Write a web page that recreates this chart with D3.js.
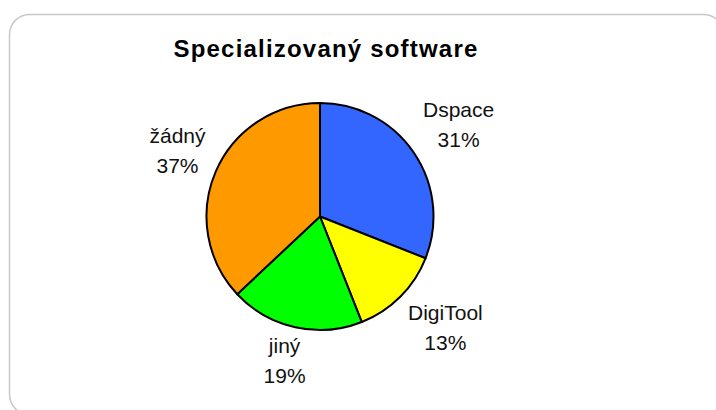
<!DOCTYPE html>
<html>
<head>
<meta charset="utf-8">
<script src="https://cdn.jsdelivr.net/npm/d3@7"></script>
<style>
  html, body { margin: 0; padding: 0; background: #fff; }
  svg { display: block; font-family: "Liberation Sans", Arial, sans-serif; }
</style>
</head>
<body>
<svg id="chart" width="716" height="410"></svg>
<script>
const categories = ["Dspace", "DigiTool", "jiný", "žádný"];
const shares = [31, 13, 19, 37];
const colors = ["#3366FF", "#FFFF00", "#00FF00", "#FF9900"];
const title = "Specializovaný software";

const svg = d3.select("#chart");
const width = +svg.attr("width");
const height = +svg.attr("height");

// frame with rounded corners, runs off the right and bottom edge
svg.append("rect")
  .attr("x", 9.5).attr("y", 14.5)
  .attr("width", 714).attr("height", 400)
  .attr("rx", 20).attr("ry", 20)
  .style("fill", "#fff")
  .style("stroke", "#c8c8c8")
  .style("stroke-width", 1.5);

svg.append("text")
  .attr("x", 326).attr("y", 57)
  .attr("text-anchor", "middle")
  .style("font-size", "24px")
  .style("font-weight", "bold")
  .style("letter-spacing", "1.2px")
  .style("fill", "#000")
  .text(title);

const cx = 320, cy = 216.5, radius = 113.5;
const data = categories.map((c, i) => ({ name: c, value: shares[i], color: colors[i] }));

const pie = d3.pie().sort(null).value(d => d.value);
const arc = d3.arc().innerRadius(0).outerRadius(radius);
const arcs = pie(data);

const g = svg.append("g").attr("transform", `translate(${cx},${cy})`);

g.selectAll("path.slice")
  .data(arcs)
  .enter().append("path")
  .attr("class", "slice")
  .attr("d", arc)
  .style("fill", d => d.data.color)
  .style("stroke", "#000")
  .style("stroke-width", 2)
  .style("stroke-linejoin", "round");

// labels: box pushed outward from a point just past the rim
const total = d3.sum(shares);
const gap = 11;
const lineGap = 30;
arcs.forEach(a => {
  const mid = (a.startAngle + a.endAngle) / 2;
  const dx = Math.sin(mid), dy = -Math.cos(mid);
  const px = (radius + gap) * dx, py = (radius + gap) * dy;

  const t = g.append("text")
    .attr("text-anchor", "middle")
    .style("font-size", "21px")
    .style("fill", "#111");
  t.append("tspan").attr("x", 0).attr("dy", 0).text(a.data.name);
  t.append("tspan").attr("x", 0).attr("dy", lineGap)
    .text(Math.round(a.data.value / total * 100) + "%");

  const bb = t.node().getBBox();
  const w = bb.width, h = 15 + lineGap; // cap top of line 1 to baseline of line 2
  const k = 1.8;
  const fx = Math.max(-1, Math.min(1, dx * k));
  const fy = Math.max(-1, Math.min(1, dy * k));
  const bx = px + fx * w / 2;
  const by = py + fy * h / 2;
  // first baseline sits 15px below the top of the box
  t.attr("transform", `translate(${bx},${by - h / 2 + 15})`);
});
</script>
</body>
</html>
